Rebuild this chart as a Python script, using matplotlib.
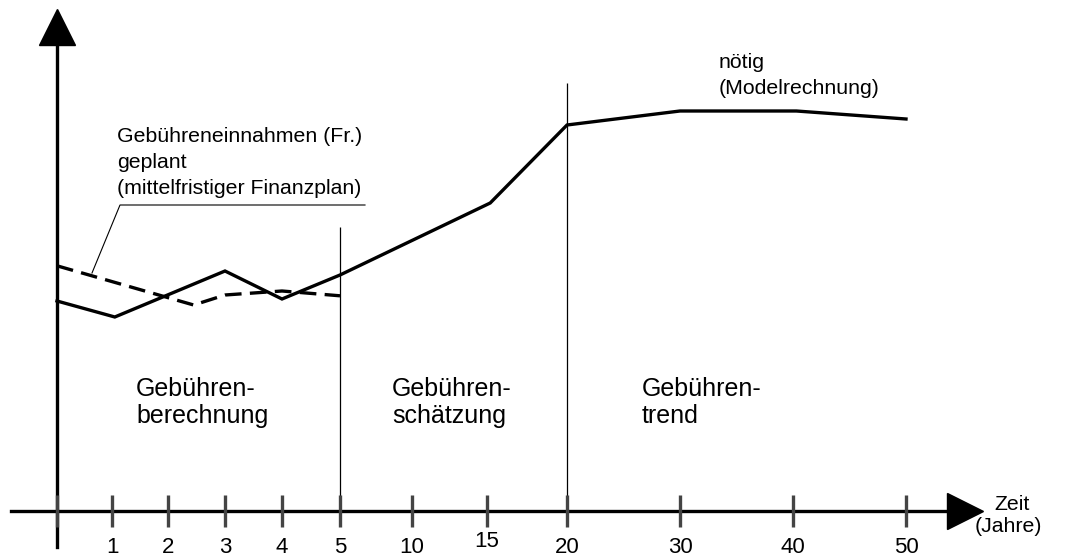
import matplotlib.pyplot as plt
import matplotlib.transforms as mtransforms
import numpy as np

plt.rcParams['font.family'] = ['Liberation Sans', 'DejaVu Sans']

# time axis (years) and where each tick sits along the schematic axis
tick_years = [0, 1, 2, 3, 4, 5, 10, 15, 20, 30, 40, 50]
tick_labels = ["", "1", "2", "3", "4", "5", "10", "15", "20", "30", "40", "50"]

# required fees (model calculation)
noetig_years = [0, 1.05, 3, 4, 5, 15.2, 20, 30, 40.3, 50]
noetig_values = [52.5, 48.5, 60, 53, 59, 77, 96.5, 100, 100, 98]

# planned fees (medium-term financial plan)
geplant_years = [0, 2.45, 3, 4, 5]
geplant_values = [61.3, 51.5, 54, 55, 53.8]

# phase boundaries
phase_years = [5, 20]
phase_tops = [71, 107]

# schematic (non-linear) time scale
scale_years = [-2, 0, 1, 2, 3, 4, 5, 10, 15, 20, 30, 40, 50, 70]
scale_px = [-53, 57, 112, 168, 225, 282, 340, 412, 487, 567, 680, 793, 906, 1132]


def fwd(x):
    return np.interp(x, scale_years, scale_px)


def inv(p):
    return np.interp(p, scale_px, scale_years)


W, H = 1073, 557
fig = plt.figure(figsize=(W / 100, H / 100), dpi=100)
ax = fig.add_axes([0, 0, 1, 1])
ax.set_xscale('function', functions=(fwd, inv))
ax.set_xlim(inv(0), inv(W))
ax.set_ylim(-11.5, 127.75)
ax.patch.set_alpha(0)

# pixel transform for annotations (origin top-left)
pix = mtransforms.Affine2D().scale(1 / W, -1 / H).translate(0, 1) + fig.transFigure

# axes
for s in ['top', 'right']:
    ax.spines[s].set_visible(False)
ax.spines['bottom'].set_position(('data', 0))
ax.spines['bottom'].set_bounds(inv(11), inv(950))
ax.spines['bottom'].set_linewidth(2.4)
ax.spines['left'].set_position(('data', 0))
ax.spines['left'].set_bounds(-9, 118)
ax.spines['left'].set_linewidth(2.4)
ax.set_yticks([])
ax.set_xticks(tick_years)
ax.set_xticklabels(tick_labels)
ax.tick_params(axis='x', direction='inout', length=23, width=2.4, color='#444444',
               labelsize=16, pad=7)
ax.xaxis.set_minor_locator(plt.NullLocator())
ax.xaxis.set_zorder(3)
for t in ax.xaxis.get_major_ticks():
    if t.label1.get_text() == "15":
        t.label1.set_transform(t.label1.get_transform() +
                               mtransforms.ScaledTranslation(0, 4 / 72, fig.dpi_scale_trans))

# arrow heads
ax.plot([57], [26.5], marker='^', ms=26, color='black', transform=pix, clip_on=False)
ax.plot([965], [511], marker='>', ms=26, color='black', transform=pix, clip_on=False)

# phase boundaries
ax.vlines(phase_years, 0, phase_tops, colors='black', linewidth=0.9)

# curves
ax.plot(noetig_years, noetig_values, color='black', linewidth=2.4, solid_joinstyle='miter')
ax.plot(geplant_years, geplant_values, color='black', linewidth=2.4, linestyle=(0, (5, 2.5)))

# labels
fs = 15.3
ax.text(117, 137, "Gebühreneinnahmen (Fr.)", transform=pix, fontsize=fs, va='center')
ax.text(117, 163, "geplant", transform=pix, fontsize=fs, va='center')
ax.text(117, 188, "(mittelfristiger Finanzplan)", transform=pix, fontsize=fs, va='center')
ax.plot([365, 120, 92], [205, 205, 273], color='black', linewidth=0.8, transform=pix)

ax.text(719, 62, "nötig", transform=pix, fontsize=fs, va='center')
ax.text(719, 88, "(Modelrechnung)", transform=pix, fontsize=fs, va='center')

for x0, word in [(136, "berechnung"), (392, "schätzung"), (642, "trend")]:
    ax.text(x0, 389, "Gebühren-", transform=pix, fontsize=18, va='center')
    ax.text(x0, 416, word, transform=pix, fontsize=18, va='center')

ax.text(1012, 505, "Zeit", transform=pix, fontsize=fs, va='center', ha='center')
ax.text(1008, 527, "(Jahre)", transform=pix, fontsize=fs, va='center', ha='center')

fig.savefig("out.png", dpi=100)
